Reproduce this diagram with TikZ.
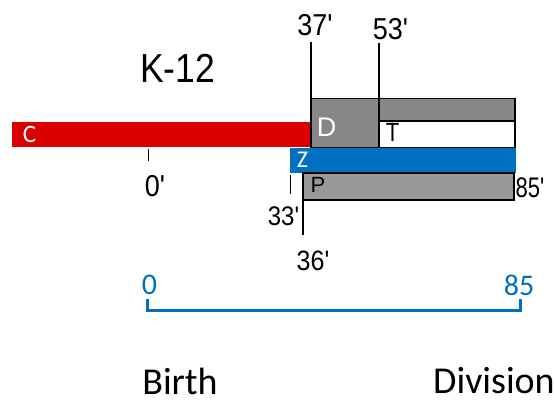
\documentclass[tikz,border=0pt]{standalone}
\usepackage{fontspec}
\defaultfontfeatures{}
\setmainfont{Liberation Sans}[Ligatures=ResetAll]
\newfontfamily\calfont{Carlito}
\newcommand{\pr}{\textquotesingle}
\definecolor{barred}{RGB}{218,0,0}
\definecolor{barblue}{RGB}{0,112,192}
\definecolor{dgray}{RGB}{135,135,135}
\definecolor{pgray}{RGB}{152,152,152}
\tikzset{
  lab/.style={inner sep=0pt, font=\fontsize{27}{27}\selectfont, yscale=1.12},
  inlab/.style={inner sep=0pt},
  calab/.style={inner sep=0pt, font=\calfont\fontsize{30}{30}\selectfont},
  boxline/.style={draw=black, line width=1.3pt},
  tickline/.style={draw=black, line width=1.1pt},
}
\begin{document}
\begin{tikzpicture}[x=1pt,y=-1pt]
\useasboundingbox (0,0) rectangle (554,399);
% bars
\fill[barred] (12,122) rectangle (311,147);
\filldraw[boxline, fill=dgray] (311,98.5) rectangle (515,147.5);
\filldraw[boxline, fill=white] (379,121) rectangle (515,147.5);
\fill[barblue] (290,148) rectangle (516,172.5);
\filldraw[boxline, fill=pgray] (303,173) rectangle (514,200);
% coordinates
\coordinate (l37t) at (311,42);
\coordinate (l37b) at (311,98.5);
\coordinate (l53t) at (379,43);
\coordinate (l53b) at (379,147.5);
\coordinate (l36t) at (303,173);
\coordinate (l36b) at (303,235);
\coordinate (l33t) at (290,175);
\coordinate (l33b) at (290,194);
\coordinate (l0t) at (148.5,149);
\coordinate (l0b) at (148.5,161);
\coordinate (bl) at (147,299);
\coordinate (blb) at (147,310);
\coordinate (br) at (520,299);
\coordinate (brb) at (520,310);
\draw[tickline] (l37t) -- (l37b);
\draw[tickline] (l53t) -- (l53b);
\draw[tickline] (l36t) -- (l36b);
\draw[tickline, line width=0.9pt] (l33t) -- (l33b);
\draw[tickline] (l0t) -- (l0b);
\draw[barblue, line width=3pt] (bl) -- (blb) -- (brb) -- (br);
% labels
\node[lab, font=\fontsize{35.5}{35.5}\selectfont, yscale=1.02] (k12) at (177.5,68) {K-12};
\node[lab] (t37) at (315,25.5) {37\pr};
\node[lab] (t53) at (390.5,29.5) {53\pr};
\node[lab] (t0) at (155,186) {0\pr};
\node[lab, font=\fontsize{22}{22}\selectfont, yscale=1.15] (t85) at (530,188) {85\pr};
\node[lab, font=\fontsize{24}{24}\selectfont] (t33) at (283.5,216) {33\pr};
\node[lab, font=\fontsize{25}{25}\selectfont] (t36) at (313,260.5) {36\pr};
\node[calab, white, font=\calfont\fontsize{25}{25}\selectfont] (c) at (29.5,134.5) {C};
\node[inlab, white, font=\fontsize{27}{27}\selectfont] (d) at (326.5,127) {D};
\node[inlab, font=\fontsize{22}{22}\selectfont, yscale=1.2] (t) at (392.5,132.5) {T};
\node[calab, white, font=\calfont\fontsize{24}{24}\selectfont] (z) at (302.5,160) {Z};
\node[inlab, font=\fontsize{22}{22}\selectfont] (p) at (318,185) {P};
\node[calab, barblue] (b0) at (149.5,285) {0};
\node[calab, barblue] (b85) at (519,285) {85};
\node[calab, font=\calfont\fontsize{38}{38}\selectfont] (birth) at (180,381.5) {Birth};
\node[calab, font=\calfont\fontsize{38}{38}\selectfont, anchor=west] (div) at (433,381) {Division};
\end{tikzpicture}
\end{document}
